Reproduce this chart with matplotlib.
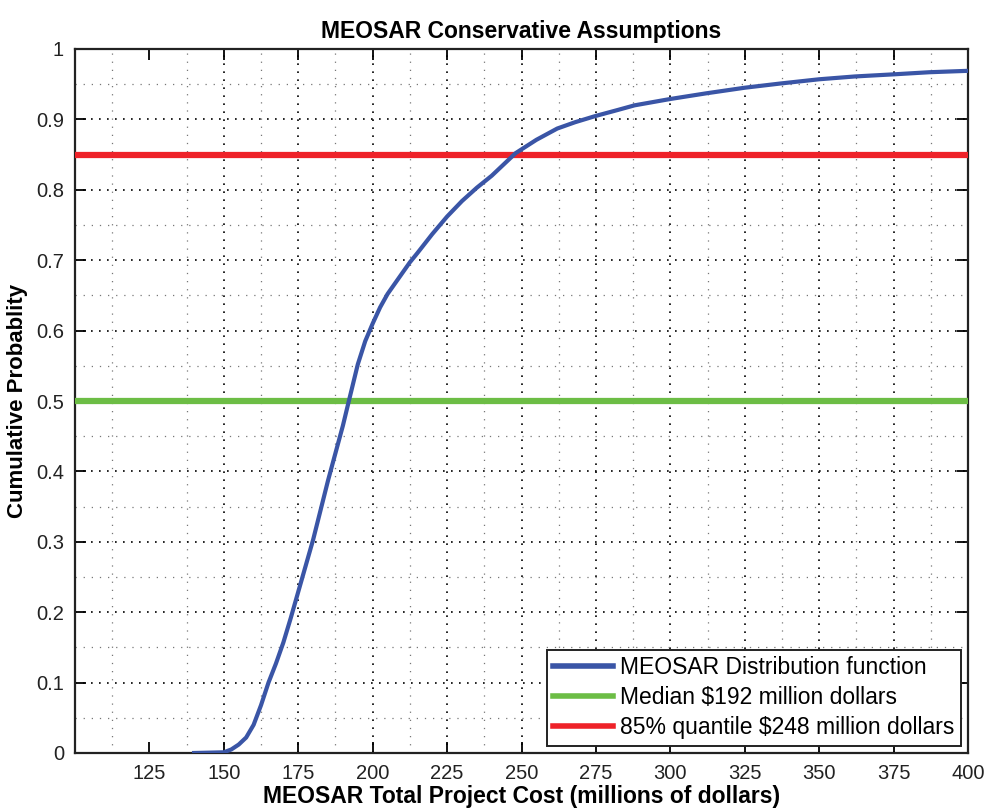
import matplotlib
matplotlib.use("Agg")
import matplotlib.pyplot as plt
from matplotlib.ticker import MultipleLocator, FixedLocator

# values
cost = [140, 150, 152.5, 155, 157.5, 160, 162.5, 165, 167.5, 170, 172.5, 175, 177.5,
        180, 182.5, 185, 187.5, 190, 192, 195, 197.5, 200, 202.5, 205, 207.5, 210,
        212.5, 215, 220, 225, 230, 235, 240, 248, 255, 262, 268, 275, 282, 288, 300,
        312, 325, 337, 350, 362, 375, 387, 400]
cum_prob = [0, 0.001, 0.005, 0.012, 0.022, 0.04, 0.068, 0.1, 0.127, 0.157, 0.192,
            0.229, 0.266, 0.303, 0.345, 0.387, 0.426, 0.465, 0.5, 0.552, 0.585, 0.61,
            0.633, 0.652, 0.667, 0.682, 0.697, 0.71, 0.737, 0.762, 0.784, 0.803, 0.82,
            0.852, 0.871, 0.887, 0.896, 0.905, 0.913, 0.92, 0.929, 0.937, 0.945, 0.951,
            0.957, 0.961, 0.964, 0.967, 0.969]
median_prob = 0.5
q85_prob = 0.85
x_ticks = [125, 150, 175, 200, 225, 250, 275, 300, 325, 350, 375, 400]
y_ticks = [0, 0.1, 0.2, 0.3, 0.4, 0.5, 0.6, 0.7, 0.8, 0.9, 1.0]
y_tick_labels = ["0", "0.1", "0.2", "0.3", "0.4", "0.5", "0.6", "0.7", "0.8", "0.9", "1"]

plt.rcParams['font.family'] = ['Liberation Sans', 'DejaVu Sans']

fig = plt.figure(figsize=(9.88, 8.08), dpi=100)
ax = fig.add_axes([75 / 988, 1 - 753 / 808, 893 / 988, 704 / 808])

ax.plot(cost, cum_prob, color='#3A55A6', lw=3, label='MEOSAR Distribution function', zorder=4)
ax.axhline(median_prob, color='#6CBD45', lw=4.5, label='Median $192 million dollars', zorder=3)
ax.axhline(q85_prob, color='#EE2229', lw=4.5, label='85% quantile $248 million dollars', zorder=3)

ax.set_xlim(100, 400)
ax.set_ylim(0, 1)
ax.xaxis.set_major_locator(FixedLocator(x_ticks))
ax.xaxis.set_minor_locator(FixedLocator([112.5 + 25 * i for i in range(12)]))
ax.set_yticks(y_ticks)
ax.set_yticklabels(y_tick_labels)
ax.yaxis.set_minor_locator(MultipleLocator(0.05))

# MATLAB style dotted grid
ax.grid(True, which='major', color='black', linestyle=(0, (1, 3.8)), lw=1.2)
ax.grid(True, which='minor', color='#777777', linestyle=(0, (1, 5.5)), lw=0.9)
ax.get_xgridlines()[0].set_visible(False)

ax.tick_params(which='major', direction='in', length=8, width=1.3, top=True, right=True,
               labelsize=14.5, labelcolor='#222222', pad=8)
ax.tick_params(which='minor', length=0)
for s in ax.spines.values():
    s.set_linewidth(1.6)
    s.set_color('#222222')

ax.set_title('MEOSAR Conservative Assumptions', fontsize=16.5, fontweight='bold', pad=8)
ax.set_xlabel('MEOSAR Total Project Cost (millions of dollars)', fontsize=16.5,
              fontweight='bold', labelpad=1)
ax.set_ylabel('Cumulative Probablity', fontsize=16, fontweight='bold', labelpad=6)

leg = ax.legend(loc='lower right', fontsize=16.5, fancybox=False, framealpha=1,
                edgecolor='#222222', handlelength=2.6, borderaxespad=0.3,
                labelspacing=0.3, handletextpad=0.3, borderpad=0.3)
leg.get_frame().set_linewidth(1.4)
for h in leg.get_lines():
    h.set_linewidth(4)

fig.savefig('out.png', dpi=100)
